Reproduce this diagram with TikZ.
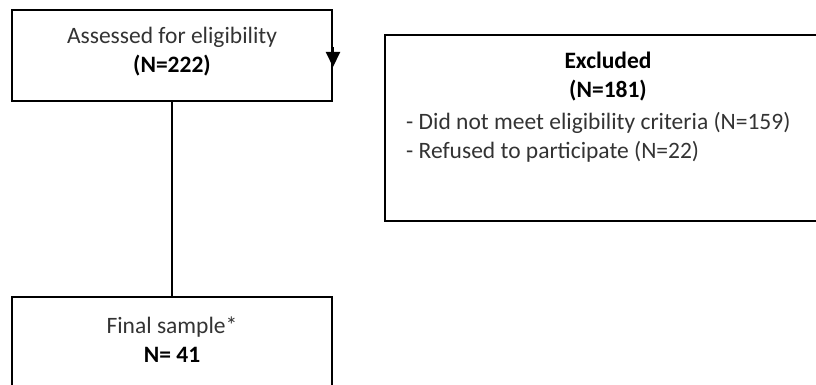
\documentclass[tikz,border=0pt]{standalone}
\usepackage{fontspec}
\setmainfont{Carlito}
\usetikzlibrary{arrows.meta}
\definecolor{lighttext}{HTML}{333333}
\tikzset{
  box/.style={draw=black, line width=2pt, fill=none, inner sep=0pt},
  txt/.style={inner sep=0pt, align=center, text=lighttext, font=\fontsize{23.5}{29}\selectfont},
  listtxt/.style={inner sep=0pt, align=left, anchor=west, text=lighttext, font=\fontsize{23.5}{29}\selectfont},
  conn/.style={draw=black, line width=2pt},
}
\begin{document}
\begin{tikzpicture}[x=1pt, y=-1pt]
\useasboundingbox (0,0) rectangle (816,385);
\clip (0,0) rectangle (816,385);
% boxes
\node[box, minimum width=320pt, minimum height=91pt] (top) at (172,55.5) {};
\node[box, minimum width=446pt, minimum height=186pt] (excl) at (608,128) {};
\node[box, minimum width=320pt, minimum height=103pt] (final) at (172,348.5) {};
% texts
\node[txt] (toptxt) at (172,52) {Assessed for eligibility\\\textcolor{black}{\textbf{(N=222)}}};
\node[txt, text=black] (excltitle) at (608,77) {\textbf{Excluded}\\\textbf{(N=181)}};
\node[listtxt] (excl1) at (406,123) {- Did not meet eligibility criteria (N=159)};
\node[listtxt] (excl2) at (406,152) {- Refused to participate (N=22)};
\node[txt] (finaltxt) at (172,340) {Final sample*\\\textcolor{black}{\textbf{N= 41}}};
% connectors
\draw[conn] (top.south) -- (final.north);
\coordinate (arrs) at ([yshift=-38pt]top.north east);
\coordinate (arre) at ([yshift=-58pt]top.north east);
\draw[conn, -{Triangle[length=15pt,width=14pt]}] (arrs) -- (arre);
\end{tikzpicture}
\end{document}
